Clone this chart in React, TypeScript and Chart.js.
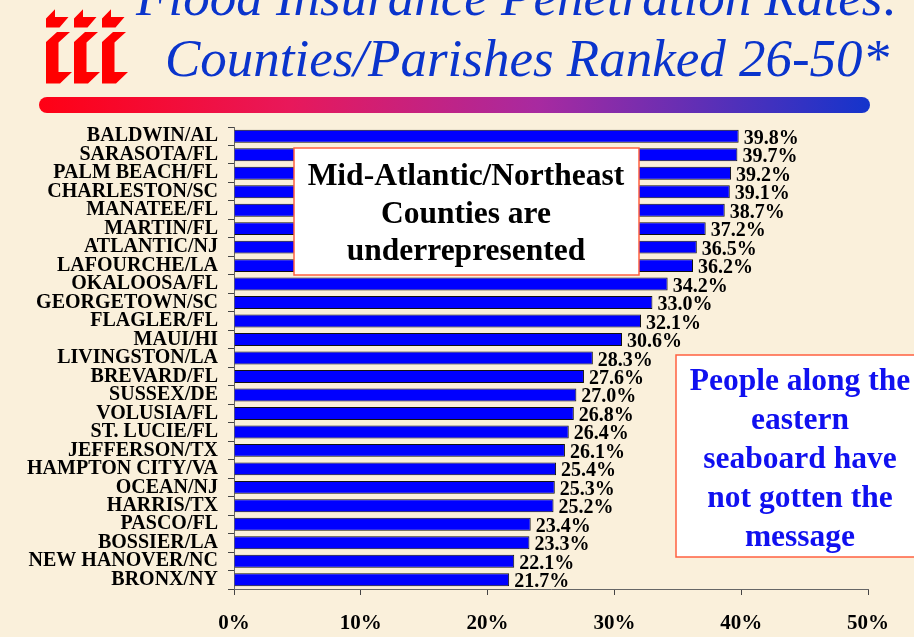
import React, { useEffect, useRef } from "react";
import { Chart, registerables } from "chart.js";

Chart.register(...registerables);

const categories = [
  "BALDWIN/AL", "SARASOTA/FL", "PALM BEACH/FL", "CHARLESTON/SC", "MANATEE/FL",
  "MARTIN/FL", "ATLANTIC/NJ", "LAFOURCHE/LA", "OKALOOSA/FL", "GEORGETOWN/SC",
  "FLAGLER/FL", "MAUI/HI", "LIVINGSTON/LA", "BREVARD/FL", "SUSSEX/DE",
  "VOLUSIA/FL", "ST. LUCIE/FL", "JEFFERSON/TX", "HAMPTON CITY/VA", "OCEAN/NJ",
  "HARRIS/TX", "PASCO/FL", "BOSSIER/LA", "NEW HANOVER/NC", "BRONX/NY",
];
const penetrationRates = [
  39.8, 39.7, 39.2, 39.1, 38.7, 37.2, 36.5, 36.2, 34.2, 33.0,
  32.1, 30.6, 28.3, 27.6, 27.0, 26.8, 26.4, 26.1, 25.4, 25.3,
  25.2, 23.4, 23.3, 22.1, 21.7,
];
const xMin = 0;
const xMax = 50;
const xStep = 10;
const titleLines = ["Flood Insurance Penetration Rates:", "Counties/Parishes Ranked 26-50*"];
const note1Lines = ["Mid-Atlantic/Northeast", "Counties are", "underrepresented"];
const note2Lines = ["People along the", "eastern", "seaboard have", "not gotten the", "message"];

const SERIF = '"Liberation Serif", "Times New Roman", Times, serif';

const dataLabelPlugin = {
  id: "dataLabels",
  afterDatasetsDraw(chart: any) {
    const ctx = chart.ctx;
    const meta = chart.getDatasetMeta(0);
    ctx.save();
    ctx.font = `bold 20px ${SERIF}`;
    ctx.fillStyle = "#000";
    ctx.textAlign = "left";
    ctx.textBaseline = "alphabetic";
    meta.data.forEach((bar: any, i: number) => {
      ctx.fillText(penetrationRates[i].toFixed(1) + "%", bar.x + 5, bar.y + 7.5);
    });
    ctx.restore();
  },
};

function Logo() {
  const letter = (dx: number) => (
    <g key={dx} transform={`translate(${dx},0)`}>
      <polygon points="46,18.5 55,9.3 55,17 68.5,17 59.5,27.5 46,27.5" fill="#ff0000" />
      <polygon points="46,42 57,32 70,32 58.5,42.5 58.5,72 72,72 60,83.5 46,83.5" fill="#ff0000" />
    </g>
  );
  return <g>{[0, 28, 56].map(letter)}</g>;
}

export default function App() {
  const canvasRef = useRef<HTMLCanvasElement | null>(null);

  useEffect(() => {
    if (!canvasRef.current) return;
    const chart = new Chart(canvasRef.current, {
      type: "bar",
      data: {
        labels: categories,
        datasets: [
          {
            data: penetrationRates,
            backgroundColor: "#0000ff",
            borderColor: "#111111",
            borderWidth: 1,
            categoryPercentage: 0.7,
            barPercentage: 1,
          },
        ],
      },
      options: {
        indexAxis: "y",
        responsive: false,
        animation: false,
        layout: { padding: { left: 0, top: 127, right: 46, bottom: 0 } },
        plugins: { legend: { display: false }, tooltip: { enabled: false } },
        scales: {
          x: {
            min: xMin,
            max: xMax,
            ticks: {
              stepSize: xStep,
              callback: (v: any) => v + "%",
              font: { family: SERIF, size: 21, weight: "bold" },
              color: "#000",
              padding: 16,
            },
            grid: { drawOnChartArea: false, drawTicks: true, tickLength: 6, color: "#444" },
            border: { color: "#666", width: 1 },
            afterFit: (scale: any) => {
              scale.height = 48;
            },
          },
          y: {
            ticks: {
              autoSkip: false,
              font: { family: SERIF, size: 20, weight: "bold" },
              color: "#000",
              padding: 10,
            },
            grid: { drawOnChartArea: false, drawTicks: true, tickLength: 6, color: "#444", offset: true },
            border: { color: "#666", width: 1 },
            afterFit: (scale: any) => {
              scale.width = 234;
            },
          },
        },
      } as any,
      plugins: [dataLabelPlugin],
    });
    return () => chart.destroy();
  }, []);

  return (
    <div
      style={{
        position: "fixed",
        left: 0,
        top: 0,
        width: 914,
        height: 637,
        overflow: "hidden",
        background: "#faf0db",
      }}
    >
      <canvas ref={canvasRef} width={914} height={637} style={{ position: "absolute", left: 0, top: 0 }} />
      <svg
        width={914}
        height={637}
        style={{ position: "absolute", left: 0, top: 0, pointerEvents: "none" }}
      >
        <defs>
          <linearGradient id="bar" x1="0" y1="0" x2="1" y2="0">
            <stop offset="0" stopColor="#ff0014" />
            <stop offset="0.3" stopColor="#e8185a" />
            <stop offset="0.6" stopColor="#a82aa0" />
            <stop offset="1" stopColor="#1434cc" />
          </linearGradient>
        </defs>
        <Logo />
        <text x={518} y={15} textAnchor="middle" fontFamily={SERIF} fontStyle="italic" fontSize={53} fill="#0a34cc">
          {titleLines[0]}
        </text>
        <text x={527} y={76} textAnchor="middle" fontFamily={SERIF} fontStyle="italic" fontSize={53} fill="#0a34cc">
          {titleLines[1]}
        </text>
        <rect x={39} y={97} width={831} height={16} rx={8} ry={8} fill="url(#bar)" />

        <rect x={294} y={148} width={345} height={127} fill="#ffffff" stroke="#ff6040" strokeWidth={1.5} />
        {note1Lines.map((t, i) => (
          <text key={t} x={466} y={185 + i * 37.5} textAnchor="middle" fontFamily={SERIF} fontWeight="bold" fontSize={31.5} fill="#000">
            {t}
          </text>
        ))}

        <rect x={676} y={355} width={250} height={202} fill="#ffffff" stroke="#ff6040" strokeWidth={1.5} />
        {note2Lines.map((t, i) => (
          <text key={t} x={800} y={390 + i * 39} textAnchor="middle" fontFamily={SERIF} fontWeight="bold" fontSize={31.5} fill="#1010f0">
            {t}
          </text>
        ))}
      </svg>
    </div>
  );
}
